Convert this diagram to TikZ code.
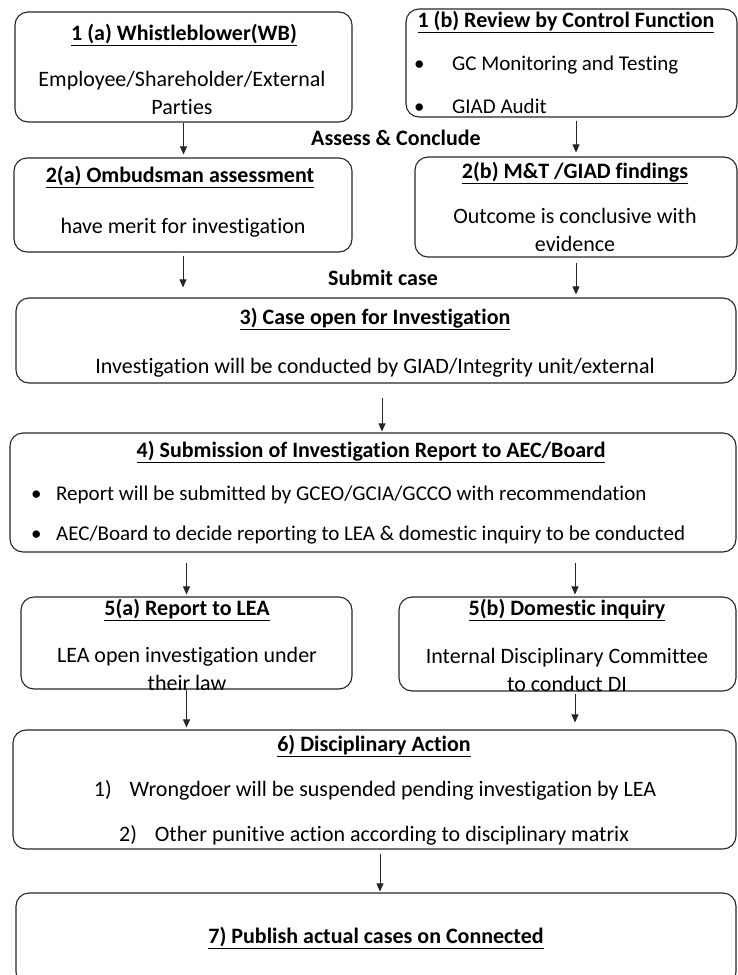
\documentclass[tikz,border=0pt]{standalone}
\usepackage{fontspec}
\setmainfont{Carlito}[Ligatures=NoCommon]
\usetikzlibrary{arrows.meta}

\tikzset{
  box/.style={draw=black!85, line width=1.1pt, rounded corners=13pt, inner sep=0pt},
  ttl/.style={font=\fontsize{22}{27}\selectfont\bfseries, text height=15pt, text depth=5pt, inner sep=0pt},
  txt/.style={font=\fontsize{22}{28}\selectfont, align=center, inner sep=0pt},
  bultxt/.style={font=\fontsize{21}{27}\selectfont, inner sep=0pt, anchor=west},
  lbl/.style={font=\fontsize{22}{27}\selectfont\bfseries, text height=15pt, text depth=5pt, inner sep=0pt},
  arr/.style={draw=black!85, line width=0.8pt, -{Triangle[length=8pt,width=7pt]}},
}
\newcommand{\bul}[1]{\makebox[#1][l]{\textbullet}}

\begin{document}
\begin{tikzpicture}[x=1pt,y=-1pt]
	\useasboundingbox (0,0) rectangle (738,975);

	% boxes
	\node[box, minimum width=337pt, minimum height=110pt] (b1a) at (183.5,67) {};
	\node[box, minimum width=331pt, minimum height=108pt] (b1b) at (571.5,63) {};
	\node[box, minimum width=338pt, minimum height=94pt] (b2a) at (183,205) {};
	\node[box, minimum width=322pt, minimum height=100pt] (b2b) at (576,207) {};
	\node[box, minimum width=720pt, minimum height=85pt] (b3) at (376,340.5) {};
	\node[box, minimum width=726pt, minimum height=119pt] (b4) at (373,492.5) {};
	\node[box, minimum width=331pt, minimum height=92pt] (b5a) at (186.5,643) {};
	\node[box, minimum width=337pt, minimum height=94pt] (b5b) at (567.5,644) {};
	\node[box, minimum width=723pt, minimum height=119pt] (b6) at (374.5,789.5) {};
	\node[box, minimum width=720pt, minimum height=92pt] (b7) at (376,939) {};

	% titles and texts
	\node[ttl] (t1a) at (184,35) {\underline{1 (a) Whistleblower(WB)}};
	\node[txt] (x1a) at (182,93) {Employee/Shareholder/External\\Parties};

	\node[ttl] (t1b) at (566,22) {\underline{1 (b) Review by Control Function}};
	\node[bultxt] (x1b1) at (414,65) {\bul{38pt}GC Monitoring and Testing};
	\node[bultxt] (x1b2) at (414,106) {\bul{38pt}GIAD Audit};

	\node[lbl] (assess) at (396,140) {Assess \& Conclude};

	\node[ttl] (t2a) at (180,177) {\underline{2(a) Ombudsman assessment}};
	\node[txt] (x2a) at (183,228) {have merit for investigation};

	\node[ttl] (t2b) at (575,173) {\underline{2(b) M\&T /GIAD findings}};
	\node[txt] (x2b) at (575,230) {Outcome is conclusive with\\evidence};

	\node[lbl] (submit) at (383,280) {Submit case};

	\node[ttl] (t3) at (375,319) {\underline{3) Case open for Investigation}};
	\node[txt] (x3) at (375,368) {Investigation will be conducted by GIAD/Integrity unit/external};

	\node[ttl] (t4) at (371,452) {\underline{4) Submission of Investigation Report to AEC/Board}};
	\node[bultxt] (x4a) at (31,495) {\bul{25pt}Report will be submitted by GCEO/GCIA/GCCO with recommendation};
	\node[bultxt] (x4b) at (31,535) {\bul{25pt}AEC/Board to decide reporting to LEA \& domestic inquiry to be conducted};

	\node[ttl] (t5a) at (187,610) {\underline{5(a) Report to LEA}};
	\node[txt] (x5a) at (187,669) {LEA open investigation under\\their law};

	\node[ttl] (t5b) at (567,610) {\underline{5(b) Domestic inquiry}};
	\node[txt] (x5b) at (567,670) {Internal Disciplinary Committee\\to conduct DI};

	\node[ttl] (t6) at (374,746) {\underline{6) Disciplinary Action}};
	\node[txt] (x6a) at (375,790) {1)\hspace{18pt}Wrongdoer will be suspended pending investigation by LEA};
	\node[txt] (x6b) at (374,835) {2)\hspace{18pt}Other punitive action according to disciplinary matrix};

	\node[ttl] (t7) at (376,938) {\underline{7) Publish actual cases on Connected}};

	% connectors
	\draw[arr, shorten >=3pt] (b1a.south) -- (b1a.south |- b2a.north);
	\draw[arr, shorten <=3pt, shorten >=4pt] (b2b.north |- b1b.south) -- (b2b.north);
	\draw[arr, shorten <=3pt, shorten >=10pt] (b2a.south) -- (b2a.south |- b3.north);
	\draw[arr, shorten <=5pt, shorten >=3pt] (b2b.south) -- (b2b.south |- b3.north);
	\draw[arr, shorten <=14pt, shorten >=1pt] ([xshift=6pt]b3.south) -- ([xshift=6pt]b3.south |- b4.north);
	\draw[arr, shorten <=10pt, shorten >=2pt] (b5a.north |- b4.south) -- (b5a.north);
	\draw[arr, shorten <=10pt, shorten >=2pt] ([xshift=7.5pt]b5b.north |- b4.south) -- ([xshift=7.5pt]b5b.north);
	\draw[arr, shorten >=2pt] (b5a.south) -- (b5a.south |- b6.north);
	\draw[arr, shorten <=2pt, shorten >=7pt] ([xshift=7.5pt]b5b.south) -- ([xshift=7.5pt]b5b.south |- b6.north);
	\draw[arr, shorten <=4pt, shorten >=1pt] ([xshift=5.5pt]b6.south) -- ([xshift=5.5pt]b6.south |- b7.north);

\end{tikzpicture}
\end{document}
